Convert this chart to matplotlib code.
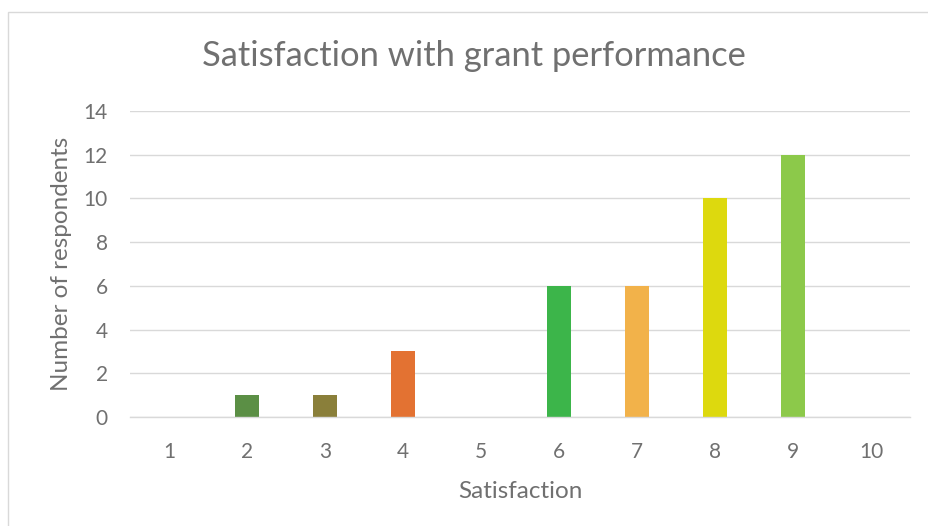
import matplotlib
matplotlib.use("Agg")
import matplotlib.pyplot as plt
from matplotlib.patches import Rectangle

categories = ["1", "2", "3", "4", "5", "6", "7", "8", "9", "10"]
values = [0, 1, 1, 3, 0, 6, 6, 10, 12, 0]
colors = ["#4472C4", "#5B8F45", "#8A7F3A", "#E37232", "#A5A5A5",
          "#3CB54A", "#F2B24A", "#DDD90E", "#8CC94A", "#5B9BD5"]
yticks = [0, 2, 4, 6, 8, 10, 12, 14]

plt.rcParams['font.family'] = ['Lato', 'DejaVu Sans']
txt = "#707070"

fig = plt.figure(figsize=(9.29, 5.26), dpi=100)
fig.patches.append(Rectangle((8/929, -0.1), 1.2, 1.1 - 12/526 + 0.0,
                             transform=fig.transFigure, fill=False,
                             edgecolor="#D9D9D9", linewidth=1))
ax = fig.add_axes([130/929, 1 - 417/526, 780/929, (417 - 111)/526])
x = list(range(len(categories)))
ax.bar(x, values, width=0.32, color=colors, zorder=3)
ax.set_xlim(-0.5, len(categories) - 0.5)
ax.set_ylim(0, 14)
ax.set_yticks(yticks)
ax.set_xticks(x)
ax.set_xticklabels(categories)
ax.grid(axis="y", color="#D9D9D9", linewidth=1, zorder=0)
for s in ["top", "right", "left"]:
    ax.spines[s].set_visible(False)
ax.spines["bottom"].set_color("#D9D9D9")
ax.spines["bottom"].set_linewidth(1)
ax.spines["bottom"].set_zorder(4)
ax.tick_params(axis="both", length=0, colors=txt, labelsize=15)
ax.tick_params(axis="x", pad=18)
ax.tick_params(axis="y", pad=16)
ax.set_xlabel("Satisfaction", color=txt, fontsize=17.5, labelpad=14)
ax.set_ylabel("Number of respondents", color=txt, fontsize=17.5, labelpad=8)
fig.text(474/929, 1 - 56/526, "Satisfaction with grant performance",
         ha="center", va="center", color=txt, fontsize=24.8)
fig.savefig("out.png", dpi=100)
